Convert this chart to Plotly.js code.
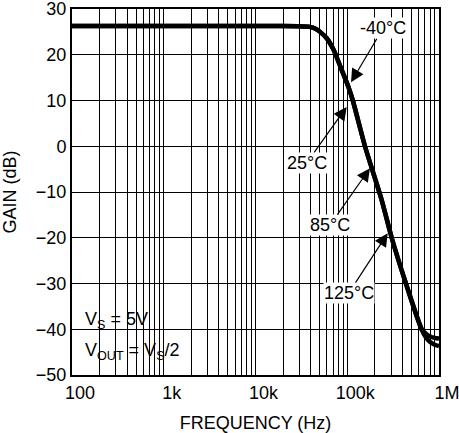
<!DOCTYPE html>
<html>
<head>
<meta charset="utf-8">
<script src="https://cdn.plot.ly/plotly-3.0.1.min.js"></script>
<style>html,body{margin:0;padding:0;background:#fff;}#chart{width:459px;height:433px;}</style>
</head>
<body>
<div id="chart"></div>
<script>
// Frequency (Hz) and gain (dB)
var freq = [100, 1000, 10000, 20000, 30000, 39000, 45000, 50500, 59700, 70500, 74800, 86900, 102800, 115000, 156000, 237000, 305000, 436000, 647000, 720000, 800000, 900000, 1000000];
var gainA = [26.3, 26.3, 26.3, 26.3, 26.25, 26.1, 25.7, 25.0, 23.6, 21.2, 20.0, 16.7, 13.0, 10.0, 0.0, -11.7, -20.0, -30.0, -40.0, -41.0, -41.6, -41.9, -42.0];
var gainB = [26.3, 26.3, 26.3, 26.3, 26.25, 26.1, 25.7, 25.0, 23.6, 21.2, 20.0, 16.7, 13.0, 10.0, 0.0, -11.7, -20.0, -30.0, -40.0, -41.8, -42.8, -43.4, -43.7];

var decadeVals = [100, 1000, 10000, 100000, 1000000];
var decadeText = ['100', '1k', '10k', '100k', '1M'];
var yTicks = [-50, -40, -30, -20, -10, 0, 10, 20, 30];

// Temperature labels: text, arrow head frequency, arrow head gain, label offset (px)
var tempLabels = ['-40°C', '25°C', '85°C', '125°C'];
var tempHeadFreq = [110000, 98600, 177000, 276000];
var tempHeadGain = [14.0, 8.6, -4.8, -19.0];
var tempDx = [32, -40, -40, -39];
var tempDy = [-54, 56, 57, 60];

// minor grid values: 2..9 x each decade
var minorVals = [];
for (var d = 0; d < decadeVals.length - 1; d++) {
  for (var m = 2; m <= 9; m++) minorVals.push(decadeVals[d] * m);
}

var font = {family: 'Liberation Sans, Arial, sans-serif', size: 18, color: '#000'};

var traces = [
  {x: freq, y: gainA, type: 'scatter', mode: 'lines', line: {color: '#000', width: 4.5, shape: 'spline', smoothing: 0.6}, hoverinfo: 'skip'},
  {x: freq, y: gainB, type: 'scatter', mode: 'lines', line: {color: '#000', width: 4.5, shape: 'spline', smoothing: 0.6}, hoverinfo: 'skip'}
];

var annotations = [];
for (var i = 0; i < tempLabels.length; i++) {
  annotations.push({
    x: Math.log10(tempHeadFreq[i]), y: tempHeadGain[i], xref: 'x', yref: 'y',
    text: tempLabels[i], showarrow: true, ax: tempDx[i], ay: tempDy[i],
    arrowhead: 2, arrowsize: 2.2, arrowwidth: 1.2, arrowcolor: '#000',
    bgcolor: '#fff', borderpad: 0, font: font
  });
}
annotations.push({xref: 'paper', yref: 'paper', x: 0.03, y: 0.150, xanchor: 'left', yanchor: 'middle',
  text: 'V<sub>S</sub> = 5V', showarrow: false, font: font});
annotations.push({xref: 'paper', yref: 'paper', x: 0.03, y: 0.063, xanchor: 'left', yanchor: 'middle',
  text: 'V<sub>OUT</sub> = V<sub>S</sub>/2', showarrow: false, font: font});

var layout = {
  width: 459, height: 433,
  margin: {l: 72, r: 20, t: 9, b: 58},
  paper_bgcolor: '#fff', plot_bgcolor: '#fff',
  showlegend: false,
  font: font,
  xaxis: {
    type: 'log', range: [2, 6], tickmode: 'array', tickvals: decadeVals, ticktext: decadeText,
    ticks: 'inside', ticklen: 8, tickwidth: 1, tickcolor: '#000',
    showgrid: true, gridcolor: '#000', gridwidth: 1,
    minor: {tickmode: 'array', tickvals: minorVals, ticks: 'inside', ticklen: 8, tickwidth: 1, tickcolor: '#000',
      showgrid: true, gridcolor: '#000', gridwidth: 1},
    showline: true, linecolor: '#000', linewidth: 2, mirror: true,
    zeroline: false, ticklabelshift: 8, tickfont: font, ticklabeloverflow: 'allow',
    title: {text: 'FREQUENCY (Hz)', font: font, standoff: 15},
    automargin: false
  },
  yaxis: {
    range: [-50, 30], tickmode: 'array', tickvals: yTicks,
    ticks: 'inside', ticklen: 9, tickwidth: 1, tickcolor: '#000',
    showgrid: true, gridcolor: '#000', gridwidth: 1,
    showline: true, linecolor: '#000', linewidth: 2, mirror: true,
    zeroline: false, tickfont: font, ticklabeloverflow: 'allow',
    title: {text: 'GAIN (dB)', font: font, standoff: 17},
    automargin: false
  },
  shapes: [{type: 'rect', xref: 'paper', yref: 'paper', x0: 0, x1: 0.327, y0: 0, y1: 0.183,
    fillcolor: '#fff', line: {width: 0}, layer: 'between'}],
  annotations: annotations
};

Plotly.newPlot('chart', traces, layout, {displayModeBar: false, staticPlot: true});
</script>
</body>
</html>
